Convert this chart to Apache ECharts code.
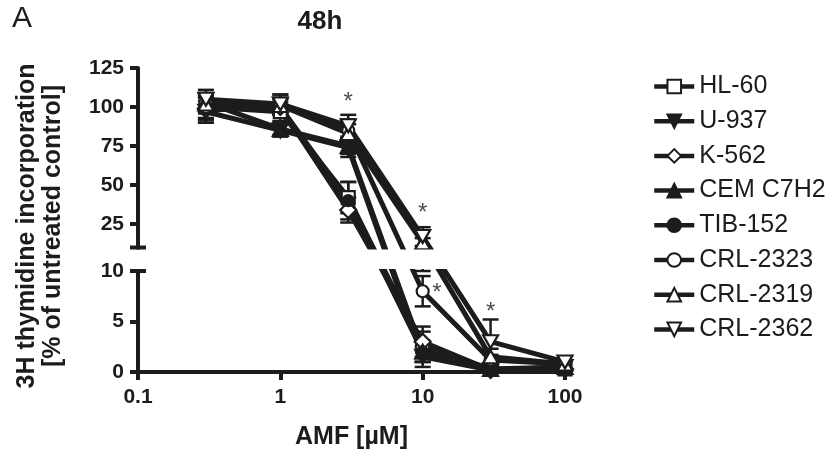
<!DOCTYPE html>
<html><head><meta charset="utf-8">
<script src="https://cdn.jsdelivr.net/npm/echarts@6/dist/echarts.min.js"></script>
<style>html,body{margin:0;padding:0;background:#fff}#c{width:838px;height:450px}</style>
</head><body><div id="c"></div>
<script>
// ---- data ----
const doses = [0.3, 1, 3, 10, 30, 100];
const names = ['HL-60','U-937','K-562','CEM C7H2','TIB-152','CRL-2323','CRL-2319','CRL-2362'];
const hl60   = [100, 97, 42, 2.5, 0.3, 0.3];
const u937   = [97, 85, 74, 1.5, 0.2, 0.5];
const k562   = [99, 100, 34, 3, 0.2, 0.3];
const cem    = [103, 86, 75, 2, 0.3, 0.5];
const tib152 = [98, 100, 40, 2, 0.2, 0.3];
const crl2323= [100, 102, 85, 8, 1.2, 0.8];
const crl2319= [102, 101, 83, 13, 1.5, 0.8];
const crl2362= [105, 102, 88, 17, 3, 1];
const errHl60   = [8, 6, 10, 1.5, 0.3, 0.3];
const errU937   = [7, 4, 6, 1, 0.2, 0.3];
const errK562   = [7, 5, 8, 1.5, 0.2, 0.3];
const errCem    = [6, 4, 5, 1, 0.3, 0.3];
const errTib152 = [8, 5, 12, 1, 0.2, 0.3];
const errCrl2323= [7, 6, 7, 1.5, 0.5, 0.4];
const errCrl2319= [6, 5, 6, 3, 0.8, 0.4];
const errCrl2362= [6, 6, 7, 6, 2.2, 0.4];
const yTickValues = [0, 5, 10, 25, 50, 75, 100, 125];
const xTicks = [0.1, 1, 10, 100];
const stars = [[3, 103], [10, 32], [12.6, 7.8], [30, 5.9]];

const values = [hl60,u937,k562,cem,tib152,crl2323,crl2319,crl2362];
const errors = [errHl60,errU937,errK562,errCem,errTib152,errCrl2323,errCrl2319,errCrl2362];

// ---- broken y-axis: piecewise linear scale (0–10 below the break, 10–125 above, compressed) ----
const BREAK = 10;
const GAP = 2.33;
const UPPER_RATIO = 0.1546;
const YMAX = 125;
function fy(v){ return v <= BREAK ? v : BREAK + GAP + (v - BREAK) * UPPER_RATIO; }
function fyInv(d){ return d <= BREAK + 1e-9 ? d : BREAK + (d - BREAK - GAP) / UPPER_RATIO; }

const INK = '#1c1c1c';
const downTri = 'path://M0,0 L10,0 L5,9 Z';
const markers = [
  {symbol:'rect', size:13, fill:'#fff'},
  {symbol:downTri, size:[15,14], fill:INK},
  {symbol:'diamond', size:16, fill:'#fff'},
  {symbol:'triangle', size:[15,14], fill:INK},
  {symbol:'circle', size:11, fill:INK},
  {symbol:'circle', size:12, fill:'#fff'},
  {symbol:'triangle', size:[15,13], fill:'#fff'},
  {symbol:downTri, size:[15,13], fill:'#fff'}
];

const FONT = '"Liberation Sans", Arial, sans-serif';
const chart = echarts.init(document.getElementById('c'), null, {renderer:'canvas'});

const series = [];
names.forEach((n, idx)=>{
  series.push({
    type:'custom', clip:true, silent:true, z:1,
    data: doses.map((d,i)=>[d, fy(values[idx][i] + errors[idx][i]), fy(Math.max(0, values[idx][i] - errors[idx][i]))]),
    renderItem: function(params, api){
      const x = api.value(0);
      const top = api.coord([x, api.value(1)]), bot = api.coord([x, api.value(2)]);
      const w = 8;
      return {type:'group', children:[
        {type:'line', shape:{x1:top[0],y1:top[1],x2:bot[0],y2:bot[1]}, style:{stroke:INK,lineWidth:2.5}},
        {type:'line', shape:{x1:top[0]-w,y1:top[1],x2:top[0]+w,y2:top[1]}, style:{stroke:INK,lineWidth:2.5}},
        {type:'line', shape:{x1:bot[0]-w,y1:bot[1],x2:bot[0]+w,y2:bot[1]}, style:{stroke:INK,lineWidth:2.5}}
      ]};
    }
  });
  const m = markers[idx];
  series.push({
    type:'line', name:n, z:3,
    data: doses.map((d,i)=>[d, fy(values[idx][i])]),
    symbol:m.symbol, symbolSize:m.size, showAllSymbol:true,
    lineStyle:{color:INK, width:5},
    itemStyle:{color:m.fill, borderColor:INK, borderWidth:2.2},
    emphasis:{disabled:true}
  });
});
series.push({type:'scatter', data:stars.map(p=>[p[0], fy(p[1])]), symbolSize:1,
  itemStyle:{color:'rgba(0,0,0,0)'}, z:5, silent:true,
  label:{show:true, position:'inside', formatter:'*', fontSize:24, color:INK, fontFamily:FONT}});

const yTicksT = yTickValues.map(fy);
const option = {
  animation:false,
  backgroundColor:'#fff',
  grid:{left:138, right:273, top:68, bottom:78, outerBoundsMode:'none', containLabel:false},
  xAxis:{type:'log', logBase:10, min:0.1, max:100,
    axisLine:{show:true, lineStyle:{color:INK, width:4}},
    axisTick:{show:true, length:8, lineStyle:{color:INK, width:4}},
    minorTick:{show:false}, splitLine:{show:false},
    axisLabel:{margin:15, fontSize:21, fontWeight:'bold', color:INK, fontFamily:FONT,
      formatter:v=>String(+(+v).toPrecision(3))},
    name:'AMF [µM]', nameLocation:'middle', nameGap:53,
    nameTextStyle:{fontSize:25, fontWeight:'bold', color:INK, fontFamily:FONT}},
  yAxis:{type:'value', min:0, max:fy(YMAX),
    axisLine:{show:true, lineStyle:{color:INK, width:4}},
    axisTick:{show:true, length:8, lineStyle:{color:INK, width:4}, customValues:yTicksT},
    axisLabel:{margin:14, fontSize:21, fontWeight:'bold', color:INK, fontFamily:FONT,
      customValues:yTicksT, formatter:v=>String(Math.round(fyInv(v)))},
    splitLine:{show:false}},
  legend:{
    orient:'vertical', left:652, top:73, padding:0, itemWidth:40, itemHeight:17, itemGap:7.7,
    data:names, selectedMode:false,
    lineStyle:{width:4.5, color:INK},
    textStyle:{fontSize:25, lineHeight:27, color:INK, fontFamily:FONT}
  },
  series:series
};
chart.setOption(option);

const pA = chart.convertToPixel({gridIndex:0}, [0.1, fy(BREAK) + GAP]);
const pB = chart.convertToPixel({gridIndex:0}, [0.1, fy(BREAK)]);
const pR = chart.convertToPixel({gridIndex:0}, [100, 0]);
chart.setOption({graphic:[
  {type:'text', left:12, top:4, style:{text:'A', fontSize:30, fill:INK, fontFamily:FONT}},
  {type:'text', x:320, y:22, style:{text:'48h', fontSize:26, fontWeight:'bold', fill:INK, fontFamily:FONT, align:'center', verticalAlign:'middle'}},
  {type:'text', x:27, y:226, rotation:Math.PI/2, style:{text:'3H thymidine incorporation', fontSize:25, fontWeight:'bold', fill:INK, fontFamily:FONT, align:'center', verticalAlign:'middle'}},
  {type:'text', x:53, y:226, rotation:Math.PI/2, style:{text:'[% of untreated control]', fontSize:25, fontWeight:'bold', fill:INK, fontFamily:FONT, align:'center', verticalAlign:'middle'}},
  {type:'rect', z:100, shape:{x:pA[0]-3, y:pA[1]+2, width:pR[0]-pA[0]+25, height:pB[1]-pA[1]-4}, style:{fill:'#fff'}},
  {type:'line', z:101, shape:{x1:pA[0]-8,y1:pA[1],x2:pA[0]+8,y2:pA[1]}, style:{stroke:INK,lineWidth:4}},
  {type:'line', z:101, shape:{x1:pB[0]-8,y1:pB[1],x2:pB[0]+8,y2:pB[1]}, style:{stroke:INK,lineWidth:4}}
]});
</script></body></html>
